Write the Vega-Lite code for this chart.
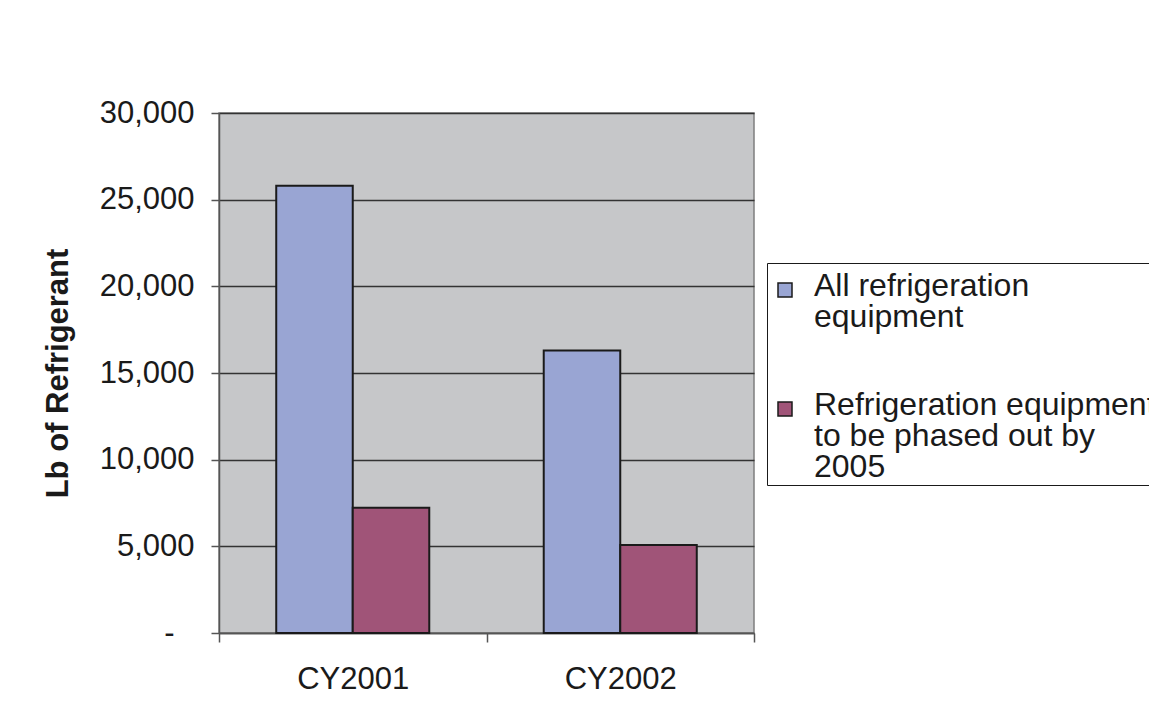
{
  "$schema": "https://vega.github.io/schema/vega-lite/v6.json",
  "autosize": "none",
  "width": 535,
  "height": 520,
  "padding": {"left": 219, "top": 113, "right": 395, "bottom": 78},
  "background": "white",
  "config": {
    "font": "Liberation Sans",
    "view": {"fill": "#C6C7C9", "stroke": "#7F7F7F", "strokeWidth": 1.5}
  },
  "data": {
    "values": [
      {"year": "CY2001", "series": "All refrigeration equipment", "lb": 25800},
      {"year": "CY2001", "series": "Refrigeration equipment to be phased out by 2005", "lb": 7230},
      {"year": "CY2002", "series": "All refrigeration equipment", "lb": 16300},
      {"year": "CY2002", "series": "Refrigeration equipment to be phased out by 2005", "lb": 5080}
    ]
  },
  "mark": {"type": "bar", "stroke": "#1A1A1A", "strokeWidth": 2},
  "encoding": {
    "x": {
      "field": "year", "type": "nominal",
      "scale": {"paddingInner": 0, "paddingOuter": 0},
      "axis": {
        "title": null, "labelAngle": 0, "labelFontSize": 31, "labelColor": "#1A1A1A",
        "tickBand": "extent", "tickSize": 9, "tickColor": "#555", "tickWidth": 1.5,
        "domainColor": "#555", "domainWidth": 1.5, "labelPadding": 22, "grid": false
      }
    },
    "xOffset": {
      "field": "series", "type": "nominal",
      "scale": {"paddingOuter": 0.748, "paddingInner": 0}
    },
    "y": {
      "field": "lb", "type": "quantitative",
      "scale": {"domain": [0, 30000], "nice": false},
      "axis": {
        "title": "Lb of Refrigerant", "titleFontSize": 31, "titleFontWeight": "bold", "titleColor": "#1A1A1A",
        "titlePadding": 25,
        "values": [0, 5000, 10000, 15000, 20000, 25000, 30000],
        "labelExpr": "datum.value == 0 ? '-' : format(datum.value, ',')",
        "labelFontSize": 31, "labelColor": "#1A1A1A",
        "labelPadding": {"condition": {"test": "datum.value == 0", "value": 37}, "value": 17},
        "tickSize": 8, "tickColor": "#555", "tickWidth": 1.5,
        "domainColor": "#555", "domainWidth": 1.5,
        "grid": true, "gridColor": "#333", "gridWidth": 1.5
      }
    },
    "color": {
      "field": "series", "type": "nominal",
      "scale": {"domain": ["All refrigeration equipment", "Refrigeration equipment to be phased out by 2005"], "range": ["#99A5D3", "#A05478"]},
      "legend": {
        "title": " ", "titleFontSize": 1, "titlePadding": 8,
        "orient": "none", "legendX": 548, "legendY": 150,
        "padding": 2, "fillColor": "white", "strokeColor": "#1A1A1A",
        "symbolType": "square", "symbolSize": 196, "symbolStrokeColor": "#1A1A1A", "symbolStrokeWidth": 1.5,
        "symbolOpacity": 1,
        "labelFontSize": 32, "labelColor": "#1A1A1A", "labelLimit": 500, "labelOffset": 13,
        "labelBaseline": "top", "rowPadding": 56,
        "labelExpr": "datum.label == 'All refrigeration equipment' ? ['All refrigeration', 'equipment'] : ['Refrigeration equipment', 'to be phased out by', '2005']",
        "encode": {"labels": {"update": {"lineHeight": {"value": 31}, "dy": {"value": -19}}}}
      }
    }
  }
}
